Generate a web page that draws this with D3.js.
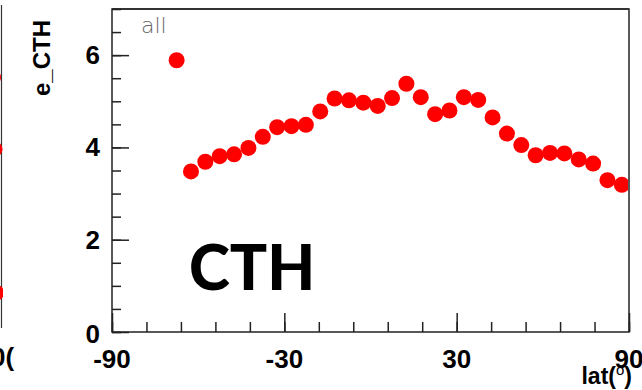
<!DOCTYPE html>
<html>
<head>
<meta charset="utf-8">
<script src="https://cdn.jsdelivr.net/npm/d3@7"></script>
<style>
  html, body { margin: 0; padding: 0; background: #fff; }
  svg { display: block; }
</style>
</head>
<body>
<svg id="chart" width="642" height="390"></svg>
<script>
// Latitude bin centres (5° bins) and the mean e_CTH in each bin
const latitudes = [-67.5, -62.5, -57.5, -52.5, -47.5, -42.5, -37.5, -32.5, -27.5, -22.5,
  -17.5, -12.5, -7.5, -2.5, 2.5, 7.5, 12.5, 17.5, 22.5, 27.5,
  32.5, 37.5, 42.5, 47.5, 52.5, 57.5, 62.5, 67.5, 72.5, 77.5, 82.5, 87.5];
const eCTH = [5.89, 3.48, 3.69, 3.81, 3.85, 3.99, 4.23, 4.44, 4.46, 4.49,
  4.78, 5.06, 5.02, 4.97, 4.90, 5.07, 5.38, 5.09, 4.72, 4.80,
  5.09, 5.03, 4.65, 4.30, 4.05, 3.83, 3.88, 3.87, 3.74, 3.65, 3.29, 3.19];

// Axis ticks
const xMajorTicks = [-90, -30, 30, 90];
const xMinorTicks = d3.range(-90, 90.1, 12);
const yMajorTicks = [0, 2, 4, 6];
const yMinorTicks = d3.range(0, 7.01, 0.5);

// Points of the adjacent panel that poke in at the left edge
const neighbourValues = [5.52, 3.96, 0.85];
const neighbourOffsets = [-7, -5.5, -4];

const svg = d3.select("#chart");
const plot = { left: 112, right: 629, top: 9, bottom: 332 };

const x = d3.scaleLinear().domain([-90, 90]).range([plot.left, plot.right]);
const y = d3.scaleLinear().domain([0, 7]).range([plot.bottom, plot.top]);

const labelFont = "'Liberation Sans', Arial, sans-serif";

// Neighbouring panel edge
svg.append("line")
  .attr("x1", 1.5).attr("x2", 1.5).attr("y1", 5).attr("y2", 328)
  .attr("stroke", "#333").attr("stroke-width", 1.2);
svg.append("defs").append("clipPath").attr("id", "leftEdge")
  .append("rect").attr("x", 0).attr("y", 0).attr("width", 3).attr("height", 340);
svg.append("g").attr("clip-path", "url(#leftEdge)")
  .selectAll("circle").data(neighbourValues).join("circle")
  .attr("cx", (d, i) => neighbourOffsets[i])
  .attr("cy", d => y(d))
  .attr("r", 8)
  .attr("fill", "#ff0000");
svg.append("text")
  .attr("x", -9).attr("y", 366)
  .attr("font-family", labelFont).attr("font-weight", "bold").attr("font-size", 26)
  .attr("fill", "#000")
  .text("0(");

// Frame
svg.append("rect")
  .attr("x", plot.left).attr("y", plot.top)
  .attr("width", plot.right - plot.left).attr("height", plot.bottom - plot.top)
  .attr("fill", "none").attr("stroke", "#222").attr("stroke-width", 1.5);
svg.append("line")
  .attr("x1", plot.left).attr("x2", plot.right).attr("y1", plot.top).attr("y2", plot.top)
  .attr("stroke", "#333").attr("stroke-width", 2.2);

// X ticks (inward)
const xAxisMinor = d3.axisBottom(x).tickValues(xMinorTicks).tickSize(-10).tickFormat("");
const xAxisMajor = d3.axisBottom(x).tickValues(xMajorTicks).tickSize(-19).tickFormat("");
[xAxisMinor, xAxisMajor].forEach(ax => {
  const g = svg.append("g").attr("transform", `translate(0,${plot.bottom})`).call(ax);
  g.select(".domain").remove();
  g.selectAll("line").attr("stroke", "#222").attr("stroke-width", 1.5);
});

// Y ticks (inward)
const yAxisMinor = d3.axisLeft(y).tickValues(yMinorTicks).tickSize(-9).tickFormat("");
const yAxisMajor = d3.axisLeft(y).tickValues(yMajorTicks).tickSize(-17).tickFormat("");
[yAxisMinor, yAxisMajor].forEach(ax => {
  const g = svg.append("g").attr("transform", `translate(${plot.left},0)`).call(ax);
  g.select(".domain").remove();
  g.selectAll("line").attr("stroke", "#222").attr("stroke-width", 1.5);
});

// Tick labels
svg.append("g").selectAll("text").data(xMajorTicks).join("text")
  .attr("x", d => x(d))
  .attr("y", 368)
  .attr("text-anchor", "middle")
  .attr("font-family", labelFont).attr("font-weight", "bold").attr("font-size", 26)
  .attr("fill", "#000")
  .text(d => d);
svg.append("g").selectAll("text").data(yMajorTicks).join("text")
  .attr("x", 100)
  .attr("y", d => y(d) + 9 + (d === 0 ? 2 : 0))
  .attr("text-anchor", "end")
  .attr("font-family", labelFont).attr("font-weight", "bold").attr("font-size", 26)
  .attr("fill", "#000")
  .text(d => d);

// Axis titles
svg.append("text")
  .attr("transform", "translate(50,96) rotate(-90)")
  .attr("font-family", labelFont).attr("font-weight", "bold").attr("font-size", 24)
  .attr("fill", "#000")
  .text("e_CTH");

const latLabel = svg.append("text")
  .attr("x", 632).attr("y", 384)
  .attr("text-anchor", "end")
  .attr("font-family", labelFont).attr("font-weight", "bold").attr("font-size", 23)
  .attr("fill", "#000");
latLabel.append("tspan").text("lat(");
latLabel.append("tspan").attr("dy", -9).attr("font-size", 15).attr("font-weight", "normal").text("o");
latLabel.append("tspan").attr("dy", 9).text(")");

// Panel tag
svg.append("text")
  .attr("x", 141).attr("y", 33)
  .attr("font-family", "'DejaVu Sans', sans-serif").attr("font-weight", 200).attr("font-size", 22)
  .attr("fill", "#666")
  .text("all");

// Data points, clipped to the frame
svg.append("defs").append("clipPath").attr("id", "plotArea")
  .append("rect").attr("x", plot.left).attr("y", plot.top)
  .attr("width", plot.right - plot.left - 1).attr("height", plot.bottom - plot.top);
svg.append("g").attr("clip-path", "url(#plotArea)")
  .selectAll("circle").data(latitudes).join("circle")
  .attr("cx", d => x(d))
  .attr("cy", (d, i) => y(eCTH[i]))
  .attr("r", 8)
  .attr("fill", "#ff0000");

// Variable name
svg.append("text")
  .attr("x", 189).attr("y", 290)
  .attr("font-family", "'Comic Sans MS', 'Lato', sans-serif").attr("font-weight", 900).attr("font-size", 62)
  .attr("fill", "#000")
  .text("CTH");
</script>
</body>
</html>
